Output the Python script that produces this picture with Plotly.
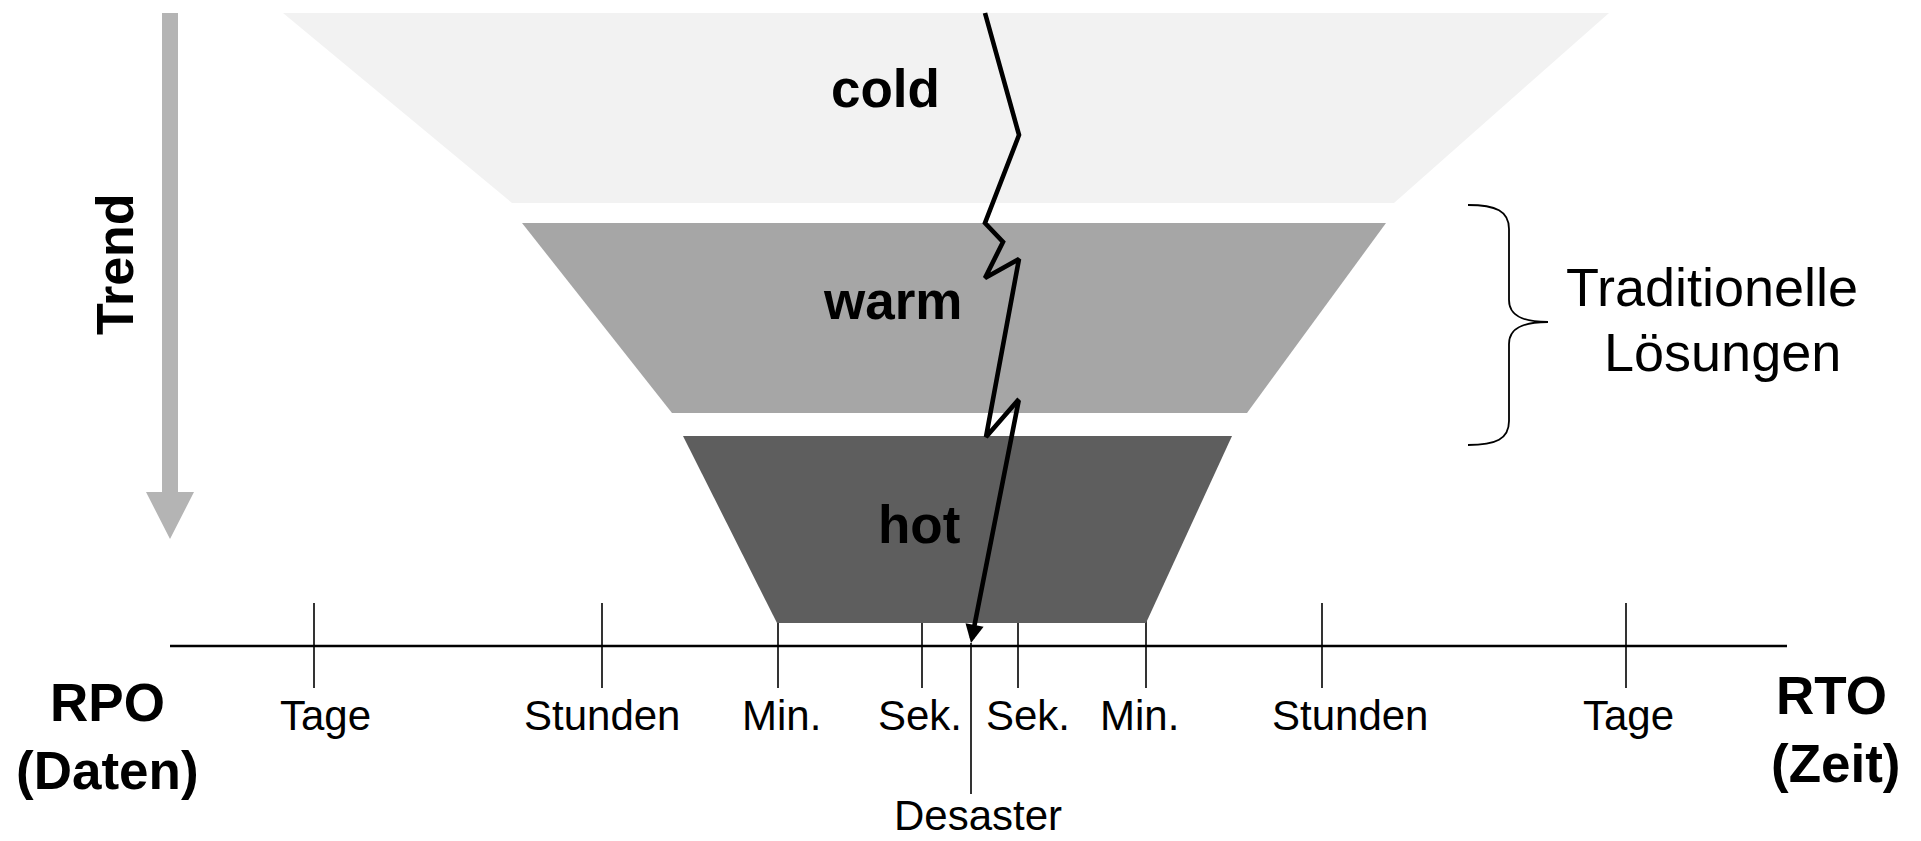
import plotly.graph_objects as go

# ---- canvas (diagram coordinates == pixel grid of the picture) ----
W, H = 1921, 841
FONT = "Liberation Sans, Arial, Helvetica, sans-serif"

# ---- tiers of the funnel ----
tier_names = ["cold", "warm", "hot"]
tier_colors = ["#f2f2f2", "#a6a6a6", "#5e5e5e"]
tier_top_y = [13, 223, 436]
tier_bottom_y = [203, 413, 623]
tier_top_left = [283, 522, 683]
tier_top_right = [1609, 1386, 1232]
tier_bottom_left = [512, 672, 777]
tier_bottom_right = [1394, 1247, 1146]
tier_label_x = [885, 892, 919]
tier_label_y = [88, 300, 524]

# ---- time axis ----
axis_y = 646
axis_x_start, axis_x_end = 170, 1787
tick_x = [314, 602, 778, 922, 1018, 1146, 1322, 1626]
tick_top, tick_bottom = 603, 688
tick_labels = ["Tage", "Stunden", "Min.", "Sek.", "Sek.", "Min.", "Stunden", "Tage"]
tick_label_x = [325, 602, 781, 920, 1028, 1139, 1350, 1628]
tick_label_y = 715

# ---- disaster marker ----
disaster_x = 971
disaster_line_top, disaster_line_bottom = 643, 794
disaster_label = "Desaster"
disaster_label_pos = (978, 815)

# ---- lightning bolt (vertices, last one is arrow tip) ----
bolt_x = [985, 1019, 985, 1003, 985, 1019, 986, 1019, 971]
bolt_y = [13, 135, 223, 242, 278, 259, 437, 399, 643]

# ---- trend arrow ----
trend_shaft_x = [162, 178]
trend_top, trend_head_base, trend_tip = 13, 492, 539
trend_head_x = [146, 194]
trend_center_x = 170
trend_color = "#b4b4b4"

# ---- brace ----
brace_x_end, brace_x_mid, brace_x_tip = 1468, 1509, 1548
brace_top, brace_mid, brace_bottom = 205, 322, 445
brace_text = ["Traditionelle", "Lösungen"]
brace_text_x = [1712, 1722]
brace_text_y = [287, 352]

fig = go.Figure()

# ticks (behind funnel)
for tx in tick_x:
    fig.add_trace(go.Scatter(x=[tx, tx], y=[tick_top, tick_bottom], mode="lines",
                             line=dict(color="black", width=1.6), hoverinfo="skip"))
# axis line
fig.add_trace(go.Scatter(x=[axis_x_start, axis_x_end], y=[axis_y, axis_y], mode="lines",
                         line=dict(color="black", width=2.4), hoverinfo="skip"))
# disaster line
fig.add_trace(go.Scatter(x=[disaster_x, disaster_x], y=[disaster_line_top, disaster_line_bottom],
                         mode="lines", line=dict(color="black", width=1.6), hoverinfo="skip"))

# funnel tiers
for i, name in enumerate(tier_names):
    fig.add_trace(go.Scatter(
        x=[tier_top_left[i], tier_top_right[i], tier_bottom_right[i], tier_bottom_left[i], tier_top_left[i]],
        y=[tier_top_y[i], tier_top_y[i], tier_bottom_y[i], tier_bottom_y[i], tier_top_y[i]],
        mode="lines", fill="toself", fillcolor=tier_colors[i],
        line=dict(width=0, color=tier_colors[i]), name=name, hoverinfo="skip"))

# trend arrow
fig.add_trace(go.Scatter(
    x=[trend_shaft_x[0], trend_shaft_x[1], trend_shaft_x[1], trend_head_x[1], trend_center_x,
       trend_head_x[0], trend_shaft_x[0], trend_shaft_x[0]],
    y=[trend_top, trend_top, trend_head_base, trend_head_base, trend_tip,
       trend_head_base, trend_head_base, trend_top],
    mode="lines", fill="toself", fillcolor=trend_color, line=dict(width=0, color=trend_color),
    hoverinfo="skip"))

# lightning bolt (all but final segment)
fig.add_trace(go.Scatter(x=bolt_x[:-1], y=bolt_y[:-1], mode="lines",
                         line=dict(color="black", width=4.6), hoverinfo="skip"))
fig.add_annotation(x=bolt_x[-1], y=bolt_y[-1], ax=bolt_x[-2], ay=bolt_y[-2],
                   xref="x", yref="y", axref="x", ayref="y", text="", showarrow=True,
                   arrowhead=2, arrowsize=0.8, arrowwidth=4.6, arrowcolor="black", standoff=0)

# brace
bp = (f"M{brace_x_end},{brace_top} "
      f"C{brace_x_end+28},{brace_top} {brace_x_mid},{brace_top+6} {brace_x_mid},{brace_top+24} "
      f"L{brace_x_mid},{brace_mid-22} "
      f"C{brace_x_mid},{brace_mid-6} {brace_x_mid+14},{brace_mid} {brace_x_tip},{brace_mid} "
      f"C{brace_x_mid+14},{brace_mid} {brace_x_mid},{brace_mid+6} {brace_x_mid},{brace_mid+22} "
      f"L{brace_x_mid},{brace_bottom-24} "
      f"C{brace_x_mid},{brace_bottom-6} {brace_x_end+28},{brace_bottom} {brace_x_end},{brace_bottom}")
fig.add_shape(type="path", path=bp, xref="x", yref="y", line=dict(color="black", width=1.8))

# texts
def txt(x, y, s, size, bold=False, angle=0):
    fig.add_annotation(x=x, y=y, xref="x", yref="y", text=s, showarrow=False,
                       textangle=angle, xanchor="center", yanchor="middle",
                       font=dict(family=FONT, size=size, color="black",
                                 weight="bold" if bold else "normal"))

for i, name in enumerate(tier_names):
    txt(tier_label_x[i], tier_label_y[i], name, 53, bold=True)
for lx, lab in zip(tick_label_x, tick_labels):
    txt(lx, tick_label_y, lab, 42)
txt(disaster_label_pos[0], disaster_label_pos[1], disaster_label, 42)
txt(107, 702, "RPO", 53, bold=True)
txt(107, 770, "(Daten)", 53, bold=True)
txt(1831, 695, "RTO", 53, bold=True)
txt(1836, 763, "(Zeit)", 53, bold=True)
txt(115, 264, "Trend", 52, bold=True, angle=-90)
for bx, by, bt in zip(brace_text_x, brace_text_y, brace_text):
    txt(bx, by, bt, 54)

fig.update_layout(
    width=W, height=H, autosize=False,
    margin=dict(l=0, r=0, t=0, b=0, pad=0),
    paper_bgcolor="white", plot_bgcolor="white", showlegend=False,
    xaxis=dict(range=[0, W], visible=False, fixedrange=True),
    yaxis=dict(range=[H, 0], visible=False, fixedrange=True),
)

fig.write_html("out.html", config={"displayModeBar": False},
               post_script="document.body.style.margin='0';document.body.style.overflow='hidden';")
